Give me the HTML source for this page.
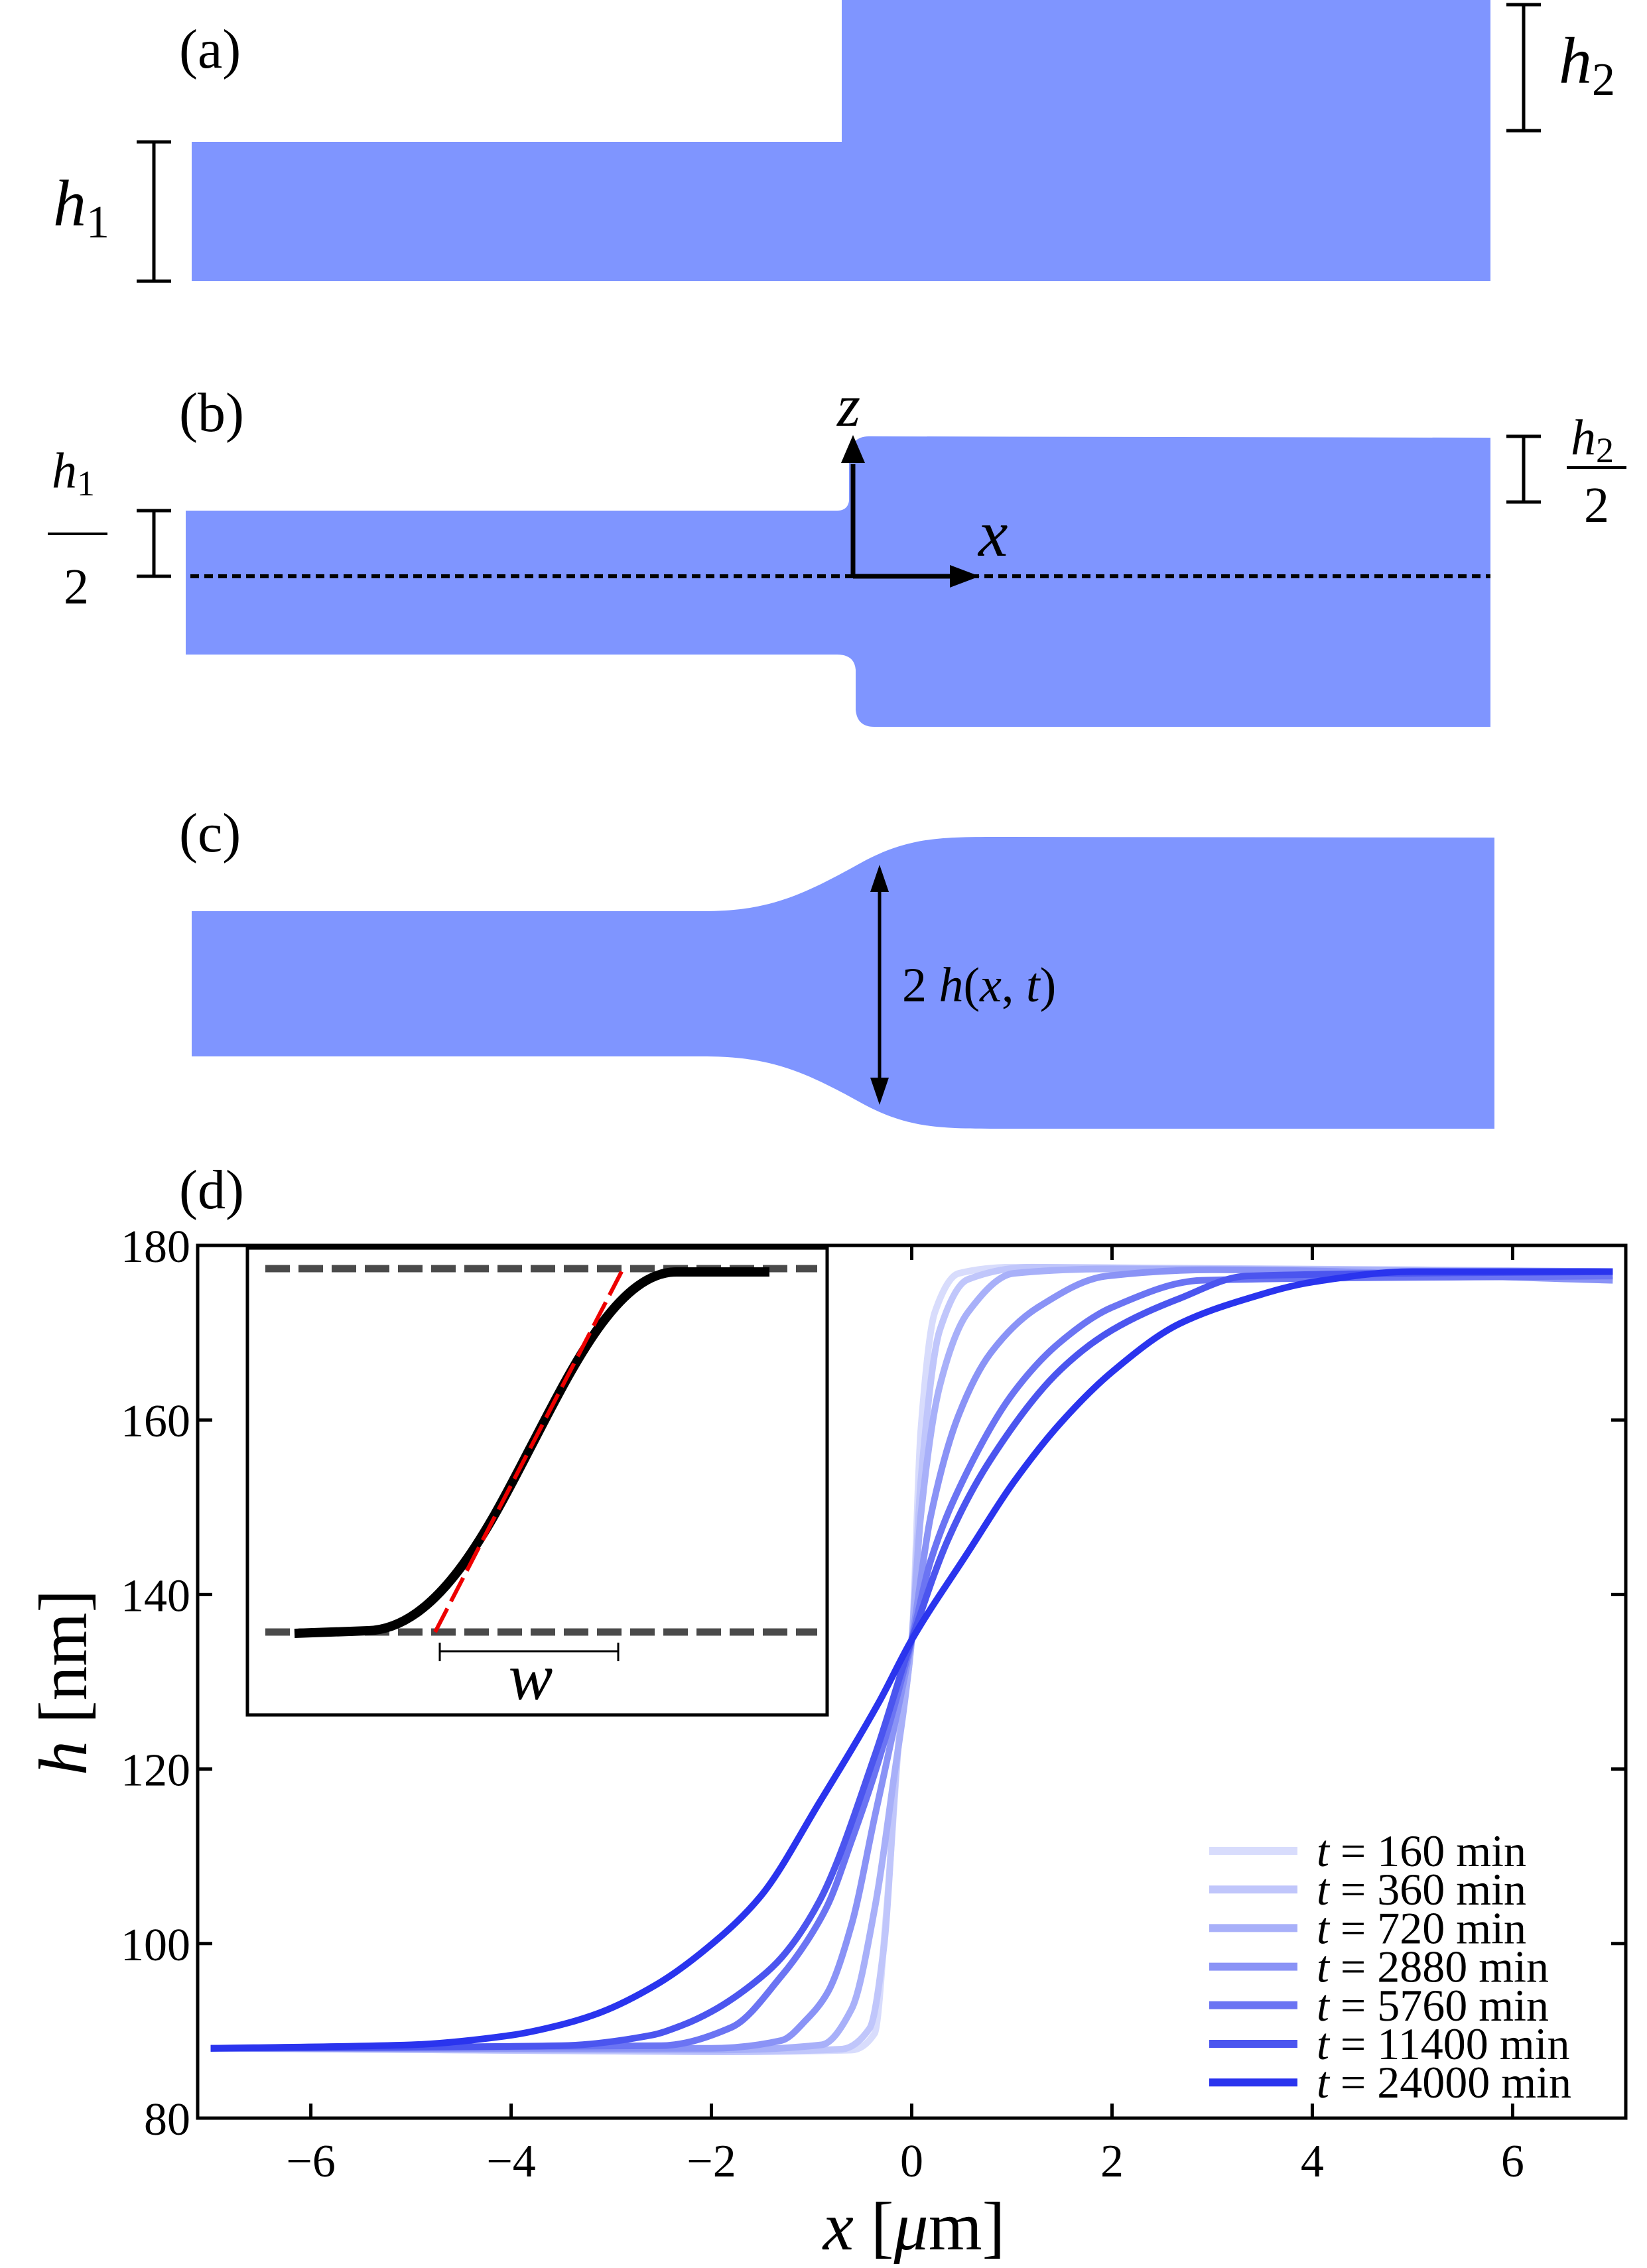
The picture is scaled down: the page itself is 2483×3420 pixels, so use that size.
<!DOCTYPE html>
<html><head><meta charset="utf-8"><style>
html,body{margin:0;padding:0;background:#fff}
svg{display:block}
text{font-family:"Liberation Serif",serif;fill:#000}
</style></head><body>
<svg id="fig" width="2483" height="3420" viewBox="0 0 2483 3420" xmlns="http://www.w3.org/2000/svg">
<g>
<text x="270" y="102" font-size="84">(a)</text>
<path d="M289,214 H1269 V0 H2247 V424 H289 Z" fill="#7f95ff"/>
<g stroke="#000" stroke-width="5"><line x1="232" y1="214" x2="232" y2="424"/><line x1="206" y1="214" x2="258" y2="214"/><line x1="206" y1="424" x2="258" y2="424"/></g>
<text x="80" y="340" font-size="100" font-style="italic">h<tspan font-style="normal" font-size="70" dy="18">1</tspan></text>
<g stroke="#000" stroke-width="5"><line x1="2297" y1="7" x2="2297" y2="197"/><line x1="2271" y1="7" x2="2323" y2="7"/><line x1="2271" y1="197" x2="2323" y2="197"/></g>
<text x="2350" y="125" font-size="100" font-style="italic">h<tspan font-style="normal" font-size="70" dy="18">2</tspan></text>
</g>
<g>
<text x="270" y="650" font-size="84">(b)</text>
<path d="M280,770 H1262 Q1278,770 1280,755 V690 Q1282,658 1310,658 L2247,660 V1096 H1318 Q1292,1096 1290,1070 V1010 Q1288,987 1262,987 H280 Z" fill="#7f95ff"/>
<line x1="287" y1="869" x2="2247" y2="869" stroke="#000" stroke-width="6" stroke-dasharray="13,8"/>
<line x1="1286" y1="869" x2="1286" y2="700" stroke="#000" stroke-width="7"/>
<polygon points="1286,656 1268,698 1304,698" fill="#000"/>
<line x1="1286" y1="869" x2="1440" y2="869" stroke="#000" stroke-width="7"/>
<polygon points="1477,869 1432,852 1432,886" fill="#000"/>
<text x="1262" y="642" font-size="90" font-style="italic">z</text>
<text x="1475" y="838" font-size="100" font-style="italic">x</text>
<g stroke="#000" stroke-width="5"><line x1="232" y1="770" x2="232" y2="869"/><line x1="206" y1="770" x2="258" y2="770"/><line x1="206" y1="869" x2="258" y2="869"/></g>
<text x="78" y="735" font-size="76" font-style="italic">h<tspan font-style="normal" font-size="54" dy="12">1</tspan></text>
<line x1="72" y1="805" x2="162" y2="805" stroke="#000" stroke-width="4"/>
<text x="96" y="910" font-size="76">2</text>
<g stroke="#000" stroke-width="5"><line x1="2297" y1="658" x2="2297" y2="757"/><line x1="2271" y1="658" x2="2323" y2="658"/><line x1="2271" y1="757" x2="2323" y2="757"/></g>
<text x="2368" y="685" font-size="76" font-style="italic">h<tspan font-style="normal" font-size="54" dy="12">2</tspan></text>
<line x1="2362" y1="705" x2="2452" y2="705" stroke="#000" stroke-width="4"/>
<text x="2388" y="787" font-size="76">2</text>
</g>
<g>
<text x="270" y="1284" font-size="84">(c)</text>
<path d="M289,1374 H1060 C1160,1374 1210,1350 1300,1300 C1370,1262 1420,1262 1510,1262 L2253,1263 V1702 H1510 C1420,1702 1370,1702 1300,1664 C1210,1614 1160,1593 1060,1593 H289 Z" fill="#7f95ff"/>
<line x1="1326" y1="1340" x2="1326" y2="1630" stroke="#000" stroke-width="5"/>
<polygon points="1326,1304 1312,1345 1340,1345" fill="#000"/>
<polygon points="1326,1666 1312,1625 1340,1625" fill="#000"/>
<text x="1360" y="1510" font-size="74">2 <tspan font-style="italic">h</tspan>(<tspan font-style="italic">x</tspan>, <tspan font-style="italic">t</tspan>)</text>
</g>
<text x="270" y="1822" font-size="84">(d)</text>
<g id="plot"></g>
<g>
<rect x="373" y="1882" width="874" height="704" fill="#fff" stroke="#000" stroke-width="5"/>
<line x1="400" y1="1913" x2="1232" y2="1913" stroke="#4a4a4a" stroke-width="11" stroke-dasharray="37,13"/>
<line x1="400" y1="2461" x2="1232" y2="2461" stroke="#4a4a4a" stroke-width="11" stroke-dasharray="37,13"/>
<path d="M444,2463 L555,2459 C660,2455 735,2308 797,2188 C860,2068 930,1918 1020,1918 L1160,1918" fill="none" stroke="#000" stroke-width="14"/>
<line x1="656" y1="2461" x2="941" y2="1910" stroke="#e00" stroke-width="6" stroke-dasharray="40,12"/>
<g stroke="#000" stroke-width="3"><line x1="663" y1="2490" x2="932" y2="2490"/><line x1="663" y1="2477" x2="663" y2="2505"/><line x1="932" y1="2477" x2="932" y2="2505"/></g>
<text x="800" y="2562" font-size="100" font-style="italic" text-anchor="middle">w</text>
</g>
<g id="legend"></g>
</svg>
<script>
const NS='http://www.w3.org/2000/svg';
const labels=['160','360','720','2880','5760','11400','24000'];
const colors=['#d8dcfc','#c0c6fb','#a8b0f9','#8a93f6','#6b74f3','#4b55ef','#2a34ee'];
const x160=[-7,-2,-0.6,-0.37,-0.26,-0.09,0,0.09,0.23,0.47,1,7];
const h160=[88,87.6,87.8,89.7,102.6,128,134.8,158.7,172.3,176.8,177.5,177];
const x360=[-7,-2,-0.7,-0.42,-0.28,-0.14,0,0.09,0.28,0.56,1.2,7];
const h360=[88,87.6,87.9,90.3,99.4,121.9,134.8,152.9,170.3,176.1,177.5,177];
const x720=[-7,-2,-0.9,-0.6,-0.37,-0.19,0,0.09,0.28,0.56,1.02,2,7];
const h720=[88,87.8,88.4,92.5,104,118,134.8,149,163.9,172.3,176.8,177.3,177];
const x2880=[-7,-2,-1.3,-1.05,-0.84,-0.6,-0.37,-0.19,0,0.19,0.47,0.79,1.26,1.95,3,7];
const h2880=[88,88,88.9,91.3,94.4,102.2,114.5,124,134.8,149,160.6,167.7,172.9,176.5,177.2,176];
const x5760=[-7,-2.5,-1.8,-1.3,-1.05,-0.84,-0.6,-0.37,-0.19,0,0.19,0.56,1.02,1.49,2,2.9,7];
const h5760=[88,88.3,90.4,96.3,100.2,104.4,111.8,119.5,126.5,134.8,143.9,154.2,163.2,169,172.9,176,176.5];
const x11400=[-7,-3.5,-2.6,-2.3,-2,-1.51,-1.3,-0.92,-0.37,0,0.37,0.79,1.49,2,2.67,3.35,7];
const h11400=[88,88.3,89.5,90.6,92.2,96.1,98.4,104.9,121.5,134.8,146.5,155.5,165.8,170.3,173.9,176.5,177];
const x24000=[-7,-5,-4,-3.5,-3.11,-2.55,-2,-1.51,-0.92,-0.33,0,0.56,1.02,1.49,2,2.67,3.35,4,5,7];
const h24000=[88,88.4,89.5,90.7,92.1,95.3,99.9,105.4,116.2,127.6,134.8,144.8,152.9,159.7,165.5,171,173.9,175.8,177,177];
const xTicks=[-6,-4,-2,0,2,4,6];
const yTicks=[80,100,120,140,160,180];
const seriesX=[x160,x360,x720,x2880,x5760,x11400,x24000];
const seriesH=[h160,h360,h720,h2880,h5760,h11400,h24000];

const L=298,R=2451,T=1878,B=3194,XMIN=-7.13,XMAX=7.13,YMIN=80,YMAX=180;
const sx=v=>L+(v-XMIN)/(XMAX-XMIN)*(R-L);
const sy=v=>B-(v-YMIN)/(YMAX-YMIN)*(B-T);
const plot=document.getElementById('plot');
function mk(tag,attrs,parent){const e=document.createElementNS(NS,tag);for(const k in attrs)e.setAttribute(k,attrs[k]);(parent||plot).appendChild(e);return e;}
const clip=mk('clipPath',{id:'pc'});mk('rect',{x:L,y:T,width:R-L,height:B-T},clip);
function pathFor(xs,ys){
  const n=xs.length,d=[],m=new Array(n);
  for(let i=0;i<n-1;i++)d.push((ys[i+1]-ys[i])/(xs[i+1]-xs[i]));
  m[0]=d[0];m[n-1]=d[n-2];
  for(let i=1;i<n-1;i++){
    if(d[i-1]*d[i]<=0){m[i]=0;continue;}
    const h0=xs[i]-xs[i-1],h1=xs[i+1]-xs[i];
    const w1=2*h1+h0,w2=h1+2*h0;
    m[i]=(w1+w2)/(w1/d[i-1]+w2/d[i]);
  }
  let p='M'+sx(xs[0]).toFixed(1)+','+sy(ys[0]).toFixed(1);
  for(let i=0;i<n-1;i++){
    const h=xs[i+1]-xs[i];
    const c1x=sx(xs[i]+h/3),c1y=sy(ys[i]+m[i]*h/3);
    const c2x=sx(xs[i+1]-h/3),c2y=sy(ys[i+1]-m[i+1]*h/3);
    p+=' C'+c1x.toFixed(1)+','+c1y.toFixed(1)+' '+c2x.toFixed(1)+','+c2y.toFixed(1)+' '+sx(xs[i+1]).toFixed(1)+','+sy(ys[i+1]).toFixed(1);
  }
  return p;
}
const cg=mk('g',{'clip-path':'url(#pc)'});
seriesX.forEach((xs,i)=>{
  const e=mk('path',{d:pathFor(xs,seriesH[i]),fill:'none',stroke:colors[i],'stroke-width':10,'stroke-linejoin':'round'},cg);
  
  
});
const ax=mk('rect',{x:L,y:T,width:R-L,height:B-T,fill:'none',stroke:'#000','stroke-width':5});


xTicks.forEach(v=>{
  const x=sx(v);
  mk('line',{x1:x,y1:B,x2:x,y2:B-22,stroke:'#000','stroke-width':5});
  mk('line',{x1:x,y1:T,x2:x,y2:T+22,stroke:'#000','stroke-width':5});
  const t=mk('text',{x:x,y:3282,'font-size':70,'text-anchor':'middle'});
  t.textContent=v<0?'\u2212'+(-v):String(v);
  
  
});
yTicks.forEach(v=>{
  const y=sy(v);
  mk('line',{x1:L,y1:y,x2:L+22,y2:y,stroke:'#000','stroke-width':5});
  mk('line',{x1:R,y1:y,x2:R-22,y2:y,stroke:'#000','stroke-width':5});
  const t=mk('text',{x:287,y:y+25,'font-size':70,'text-anchor':'end'});
  t.textContent=String(v);
  
  
});
const xt=mk('text',{x:1378,y:3392,'font-size':104,'text-anchor':'middle'});
xt.innerHTML='<tspan font-style="italic">x</tspan> [<tspan font-style="italic">μ</tspan>m]';


const yt=mk('text',{x:0,y:0,'font-size':104,'text-anchor':'middle',transform:'translate(130,2537) rotate(-90)'});
yt.innerHTML='<tspan font-style="italic">h</tspan>   [nm]';


const lg=document.getElementById('legend');
labels.forEach((lab,i)=>{
  const y=2791+i*58.2;
  const ln=mk('line',{x1:1823,y1:y,x2:1956,y2:y,stroke:colors[i],'stroke-width':12},lg);
  
  
  const t=mk('text',{x:1985,y:y+23,'font-size':68},lg);
  t.innerHTML='<tspan font-style="italic">t</tspan> = '+lab+' min';
  
  
});
</script>
</body></html>
